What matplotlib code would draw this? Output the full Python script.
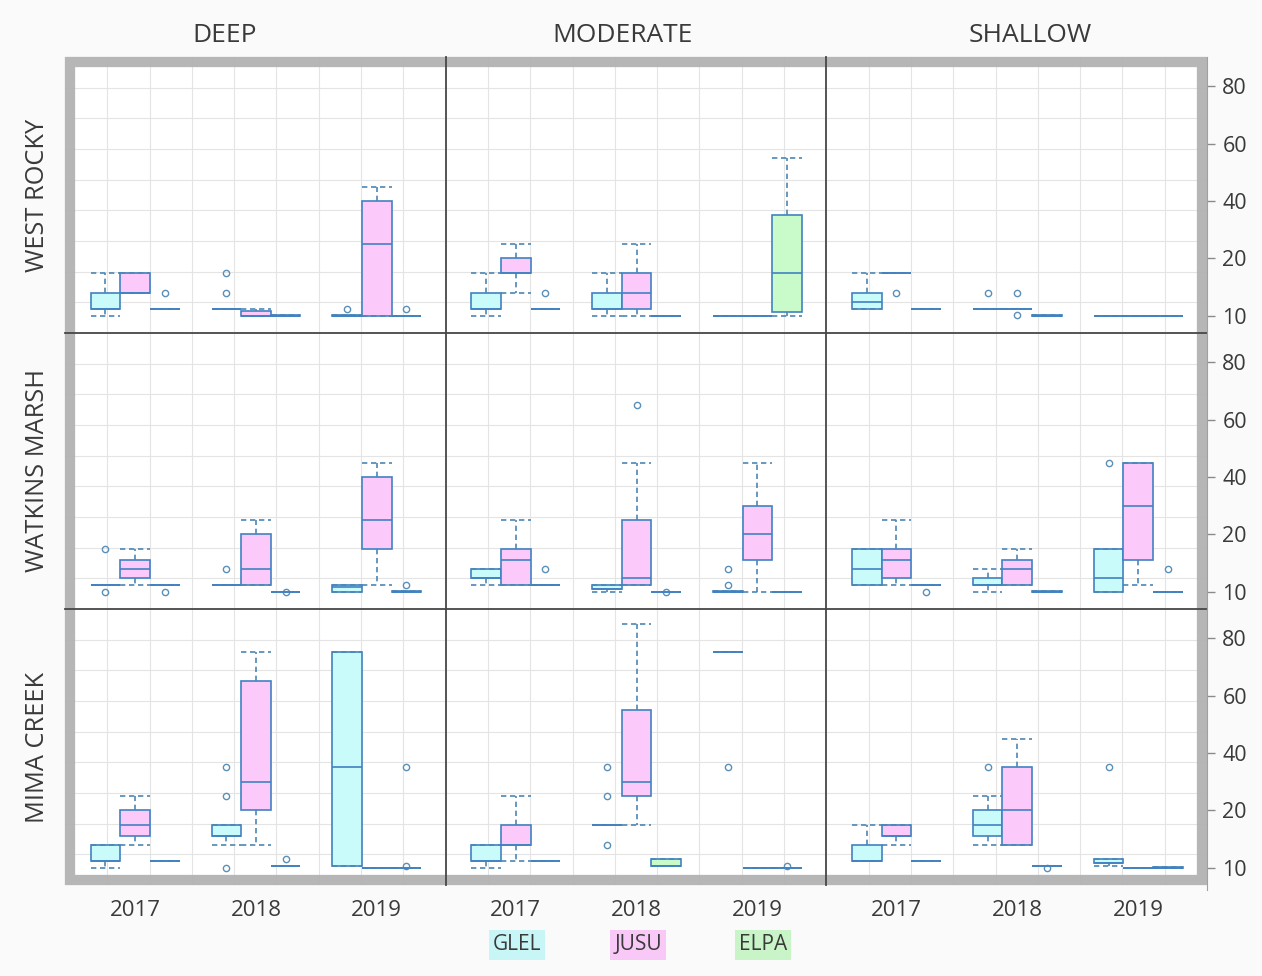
"""Trellis of box plots: plant heights by site, depth zone, year and species."""
import matplotlib
matplotlib.use("Agg")
import matplotlib.pyplot as plt
import numpy as np
from matplotlib.lines import Line2D
from matplotlib.patches import Rectangle

plt.rcParams["font.family"] = ["Open Sans", "DejaVu Sans"]

SITES = ["WEST ROCKY", "WATKINS MARSH", "MIMA CREEK"]
DEPTHS = ["DEEP", "MODERATE", "SHALLOW"]
YEARS = [2017, 2018, 2019]
SPECIES = ["GLEL", "JUSU", "ELPA"]
Y_TICKS = [10, 20, 40, 60, 80]

# (depth, year, species, whislo, q1, median, q3, whishi, outliers)
WEST_ROCKY = [
    ("DEEP", 2017, "GLEL", 10, 11.3, 11.3, 14, 17.5, []),
    ("DEEP", 2017, "JUSU", 14, 14, 14, 17.5, 17.5, []),
    ("DEEP", 2017, "ELPA", 11.3, 11.3, 11.3, 11.3, 11.3, [14]),
    ("DEEP", 2018, "GLEL", 11.3, 11.3, 11.3, 11.3, 11.3, [14, 17.5]),
    ("DEEP", 2018, "JUSU", 10, 10, 10, 10.9, 11.3, []),
    ("DEEP", 2018, "ELPA", 10, 10, 10, 10.2, 10.2, []),
    ("DEEP", 2019, "GLEL", 10, 10, 10, 10.2, 10.2, [11.3]),
    ("DEEP", 2019, "JUSU", 10, 10, 25, 40, 45, []),
    ("DEEP", 2019, "ELPA", 10, 10, 10, 10, 10, [11.3]),
    ("MODERATE", 2017, "GLEL", 10, 11.3, 11.3, 14, 17.5, []),
    ("MODERATE", 2017, "JUSU", 14, 17.5, 17.5, 20, 25, []),
    ("MODERATE", 2017, "ELPA", 11.3, 11.3, 11.3, 11.3, 11.3, [14]),
    ("MODERATE", 2018, "GLEL", 10, 11.3, 11.3, 14, 17.5, []),
    ("MODERATE", 2018, "JUSU", 10, 11.3, 14, 17.5, 25, []),
    ("MODERATE", 2018, "ELPA", 10, 10, 10, 10, 10, []),
    ("MODERATE", 2019, "GLEL", 10, 10, 10, 10, 10, []),
    ("MODERATE", 2019, "JUSU", 10, 10, 10, 10, 10, []),
    ("MODERATE", 2019, "ELPA", 10, 10.7, 17.5, 35, 55, []),
    ("SHALLOW", 2017, "GLEL", 11.3, 11.3, 12.5, 14, 17.5, []),
    ("SHALLOW", 2017, "JUSU", 17.5, 17.5, 17.5, 17.5, 17.5, [14]),
    ("SHALLOW", 2017, "ELPA", 11.3, 11.3, 11.3, 11.3, 11.3, []),
    ("SHALLOW", 2018, "GLEL", 11.3, 11.3, 11.3, 11.3, 11.3, [14]),
    ("SHALLOW", 2018, "JUSU", 11.3, 11.3, 11.3, 11.3, 11.3, [14, 10.2]),
    ("SHALLOW", 2018, "ELPA", 10, 10, 10, 10.2, 10.2, []),
    ("SHALLOW", 2019, "GLEL", 10, 10, 10, 10, 10, []),
    ("SHALLOW", 2019, "JUSU", 10, 10, 10, 10, 10, []),
    ("SHALLOW", 2019, "ELPA", 10, 10, 10, 10, 10, []),
]

WATKINS_MARSH = [
    ("DEEP", 2017, "GLEL", 11.3, 11.3, 11.3, 11.3, 11.3, [17.5, 10]),
    ("DEEP", 2017, "JUSU", 11.3, 12.5, 14, 15.6, 17.5, []),
    ("DEEP", 2017, "ELPA", 11.3, 11.3, 11.3, 11.3, 11.3, [10]),
    ("DEEP", 2018, "GLEL", 11.3, 11.3, 11.3, 11.3, 11.3, [14]),
    ("DEEP", 2018, "JUSU", 11.3, 11.3, 14, 20, 25, []),
    ("DEEP", 2018, "ELPA", 10, 10, 10, 10, 10, [10]),
    ("DEEP", 2019, "GLEL", 10, 10, 10.8, 11.3, 11.3, []),
    ("DEEP", 2019, "JUSU", 11.3, 17.5, 25, 40, 45, []),
    ("DEEP", 2019, "ELPA", 10, 10, 10, 10.2, 10.2, [11.3]),
    ("MODERATE", 2017, "GLEL", 11.3, 12.5, 12.5, 14, 14, []),
    ("MODERATE", 2017, "JUSU", 11.3, 11.3, 15.6, 17.5, 25, []),
    ("MODERATE", 2017, "ELPA", 11.3, 11.3, 11.3, 11.3, 11.3, [14]),
    ("MODERATE", 2018, "GLEL", 10, 10.6, 10.6, 11.3, 11.3, []),
    ("MODERATE", 2018, "JUSU", 11.3, 11.3, 12.5, 25, 45, [65]),
    ("MODERATE", 2018, "ELPA", 10, 10, 10, 10, 10, [10]),
    ("MODERATE", 2019, "GLEL", 10, 10, 10, 10.2, 10.2, [14, 11.3]),
    ("MODERATE", 2019, "JUSU", 10, 15.6, 20, 30, 45, []),
    ("MODERATE", 2019, "ELPA", 10, 10, 10, 10, 10, []),
    ("SHALLOW", 2017, "GLEL", 11.3, 11.3, 14, 17.5, 17.5, []),
    ("SHALLOW", 2017, "JUSU", 11.3, 12.5, 15.6, 17.5, 25, []),
    ("SHALLOW", 2017, "ELPA", 11.3, 11.3, 11.3, 11.3, 11.3, [10]),
    ("SHALLOW", 2018, "GLEL", 10, 11.3, 11.3, 12.5, 14, []),
    ("SHALLOW", 2018, "JUSU", 11.3, 11.3, 14, 15.6, 17.5, []),
    ("SHALLOW", 2018, "ELPA", 10, 10, 10, 10.2, 10.2, []),
    ("SHALLOW", 2019, "GLEL", 10, 10, 12.5, 17.5, 17.5, [45]),
    ("SHALLOW", 2019, "JUSU", 11.3, 15.6, 30, 45, 45, []),
    ("SHALLOW", 2019, "ELPA", 10, 10, 10, 10, 10, [14]),
]

MIMA_CREEK = [
    ("DEEP", 2017, "GLEL", 10, 11.3, 11.3, 14, 14, []),
    ("DEEP", 2017, "JUSU", 14, 15.6, 17.5, 20, 25, []),
    ("DEEP", 2017, "ELPA", 11.3, 11.3, 11.3, 11.3, 11.3, []),
    ("DEEP", 2018, "GLEL", 14, 15.6, 15.6, 17.5, 17.5, [35, 25, 10]),
    ("DEEP", 2018, "JUSU", 14, 20, 30, 65, 75, []),
    ("DEEP", 2018, "ELPA", 10.4, 10.4, 10.4, 10.4, 10.4, [11.5]),
    ("DEEP", 2019, "GLEL", 10.4, 10.4, 35, 75, 75, []),
    ("DEEP", 2019, "JUSU", 10, 10, 10, 10, 10, []),
    ("DEEP", 2019, "ELPA", 10, 10, 10, 10, 10, [35, 10.4]),
    ("MODERATE", 2017, "GLEL", 10, 11.3, 11.3, 14, 14, []),
    ("MODERATE", 2017, "JUSU", 11.3, 14, 14, 17.5, 25, []),
    ("MODERATE", 2017, "ELPA", 11.3, 11.3, 11.3, 11.3, 11.3, []),
    ("MODERATE", 2018, "GLEL", 17.5, 17.5, 17.5, 17.5, 17.5, [35, 25, 14]),
    ("MODERATE", 2018, "JUSU", 17.5, 25, 30, 55, 85, []),
    ("MODERATE", 2018, "ELPA", 10.3, 10.3, 10.3, 11.5, 11.5, []),
    ("MODERATE", 2019, "GLEL", 75, 75, 75, 75, 75, [35]),
    ("MODERATE", 2019, "JUSU", 10, 10, 10, 10, 10, []),
    ("MODERATE", 2019, "ELPA", 10, 10, 10, 10, 10, [10.4]),
    ("SHALLOW", 2017, "GLEL", 11.3, 11.3, 11.3, 14, 17.5, []),
    ("SHALLOW", 2017, "JUSU", 14, 15.6, 15.6, 17.5, 17.5, []),
    ("SHALLOW", 2017, "ELPA", 11.3, 11.3, 11.3, 11.3, 11.3, []),
    ("SHALLOW", 2018, "GLEL", 14, 15.6, 17.5, 20, 25, [35]),
    ("SHALLOW", 2018, "JUSU", 14, 14, 20, 35, 45, []),
    ("SHALLOW", 2018, "ELPA", 10.3, 10.3, 10.3, 10.3, 10.3, [10]),
    ("SHALLOW", 2019, "GLEL", 10.4, 10.8, 10.8, 11.5, 11.5, [35]),
    ("SHALLOW", 2019, "JUSU", 10, 10, 10, 10, 10, []),
    ("SHALLOW", 2019, "ELPA", 10, 10, 10, 10.2, 10.2, []),
]

SITE_DATA = {"WEST ROCKY": WEST_ROCKY, "WATKINS MARSH": WATKINS_MARSH, "MIMA CREEK": MIMA_CREEK}

FILL = {"GLEL": "#c9fbfb", "JUSU": "#fcc9fb", "ELPA": "#c9fac9"}
LEGEND_BG = {"GLEL": "#c8f6f6", "JUSU": "#f8c8f6", "ELPA": "#c8f4c8"}
OFFSET = {"GLEL": -0.245, "JUSU": 0.0, "ELPA": 0.245}
EDGE = "#4181c2"
WHISKER = "#4d86b3"
TEXT = "#3a3a3a"
DIVIDER = "#474747"

# axis spacing: 10, 20, 40, 60, 80 sit at equal steps
SCALE_V = [0, 10, 20, 40, 60, 80, 100]
SCALE_T = [-1, 0, 1, 2, 3, 4, 5]


def fwd(v):
    return np.interp(v, SCALE_V, SCALE_T)


def inv(t):
    return np.interp(t, SCALE_T, SCALE_V)


W, H = 1262, 976
fig = plt.figure(figsize=(W / 100, H / 100), dpi=100, facecolor="#fafafa")

x_edges = np.linspace(65, 1207, 4)
y_edges = np.linspace(57, 885, 4)

for r, site in enumerate(SITES):
    rows = SITE_DATA[site]
    for c, depth in enumerate(DEPTHS):
        x0, x1 = x_edges[c], x_edges[c + 1]
        y0, y1 = y_edges[r], y_edges[r + 1]
        ax = fig.add_axes([x0 / W, 1 - y1 / H, (x1 - x0) / W, (y1 - y0) / H])
        ax.set_facecolor("white")
        ax.set_yscale("function", functions=(fwd, inv))
        ax.set_xlim(2016.42, 2019.57)
        ax.set_ylim(7.04, 90.1)

        for k in range(1, 9):
            f = k / 9
            ax.plot([f, f], [0, 1], transform=ax.transAxes, color="#e4e4e4", lw=0.8, zorder=0.5)
            ax.plot([0, 1], [f, f], transform=ax.transAxes, color="#e4e4e4", lw=0.8, zorder=0.5)

        for sp in SPECIES:
            sel = [row for row in rows if row[0] == depth and row[2] == sp]
            stats = [dict(whislo=row[3], q1=row[4], med=row[5], q3=row[6], whishi=row[7],
                          fliers=row[8]) for row in sel]
            pos = [row[1] + OFFSET[sp] for row in sel]
            ax.bxp(stats, positions=pos, widths=0.245, capwidths=0.245,
                   patch_artist=True, manage_ticks=False,
                   boxprops=dict(facecolor=FILL[sp], edgecolor=EDGE, linewidth=1.2),
                   medianprops=dict(color=EDGE, linewidth=1.2),
                   whiskerprops=dict(color=WHISKER, linewidth=1.2, linestyle=(0, (3.2, 2.2))),
                   capprops=dict(color=WHISKER, linewidth=1.2, linestyle=(0, (3.2, 2.2))),
                   flierprops=dict(marker="o", markersize=4.5, markerfacecolor="none",
                                   markeredgecolor="#5a90b8", markeredgewidth=1.0))

        # panel separators are drawn at figure level, over the frame
        for s in ax.spines.values():
            s.set_visible(False)

        ax.minorticks_off()
        if c == 2:
            ax.yaxis.tick_right()
            ax.set_yticks(Y_TICKS)
            ax.set_yticklabels([str(t) for t in Y_TICKS])
            ax.tick_params(axis="y", which="major", length=6, width=1, color="#8a8a8a",
                           labelsize=15.5, labelcolor=TEXT, pad=5)
        else:
            ax.set_yticks([])
        if r == 2:
            ax.set_xticks(YEARS)
            ax.set_xticklabels([str(y) for y in YEARS])
            ax.tick_params(axis="x", length=0, labelsize=16, labelcolor=TEXT, pad=11)
        else:
            ax.set_xticks([])

# thick grey frame around the whole trellis
frame = Rectangle((70 / W, 1 - 880 / H), 1132 / W, 818 / H, transform=fig.transFigure,
                  fill=False, edgecolor="#b2b2b2", linewidth=7.4, alpha=0.95, zorder=10)
fig.add_artist(frame)

for xe in x_edges[1:-1]:
    fig.add_artist(Line2D([xe / W, xe / W], [1 - y_edges[-1] / H, 1 - y_edges[0] / H],
                          transform=fig.transFigure, color=DIVIDER, lw=1.3, zorder=11))
for ye in y_edges[1:-1]:
    fig.add_artist(Line2D([x_edges[0] / W, x_edges[-1] / W], [1 - ye / H, 1 - ye / H],
                          transform=fig.transFigure, color=DIVIDER, lw=1.3, zorder=11))
# thin axis line along the right edge, where the ticks sit
fig.add_artist(Line2D([x_edges[-1] / W, x_edges[-1] / W], [1 - 890 / H, 1 - 57 / H],
                      transform=fig.transFigure, color="#a0a0a0", lw=0.8, zorder=11))

for name, xc in zip(DEPTHS, [225, 623, 1030]):
    fig.text(xc / W, 1 - 36 / H, name, ha="center", va="center", fontsize=19, color=TEXT)

for r, site in enumerate(SITES):
    yc = (y_edges[r] + y_edges[r + 1]) / 2
    fig.text(38 / W, 1 - yc / H, site, ha="center", va="center", rotation=90,
             fontsize=18.3, color=TEXT)

for sp, xc in zip(SPECIES, [517, 638, 763]):
    fig.text(xc / W, 1 - 945 / H, sp, ha="center", va="center", fontsize=15, color=TEXT,
             bbox=dict(facecolor=LEGEND_BG[sp], edgecolor="none", pad=3))

fig.savefig("out.png", dpi=100, facecolor=fig.get_facecolor())
